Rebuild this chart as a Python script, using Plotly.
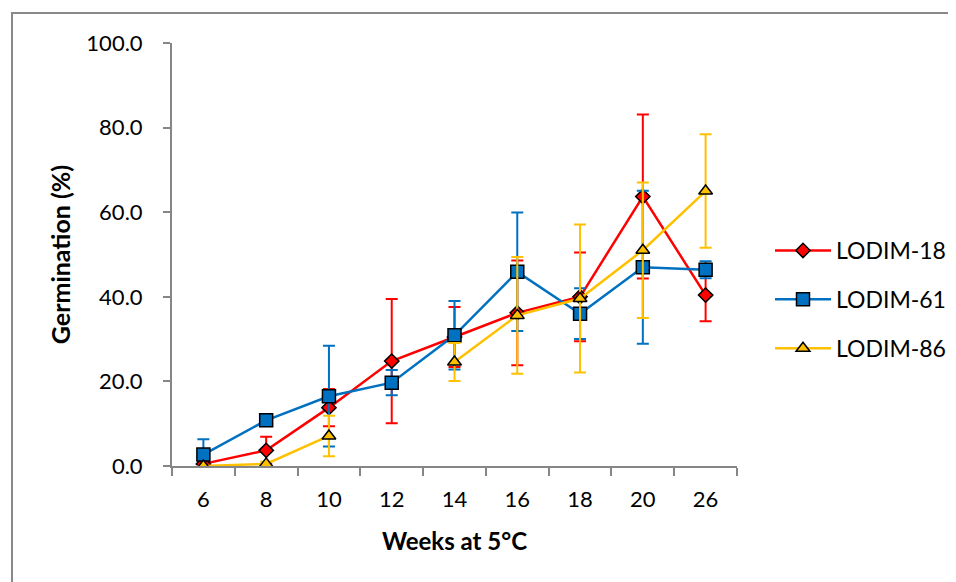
import plotly.graph_objects as go

weeks = ["6", "8", "10", "12", "14", "16", "18", "20", "26"]

lodim18 = [0.5, 3.7, 13.8, 24.8, 30.5, 36.2, 40.0, 63.7, 40.4]
lodim18_err = [0.5, 3.2, 4.4, 14.7, 7.1, 12.4, 10.5, 19.4, 6.2]

lodim61 = [2.7, 10.8, 16.5, 19.7, 30.9, 45.9, 36.0, 47.0, 46.4]
lodim61_err = [3.6, 0.8, 11.9, 3.0, 8.1, 14.0, 6.0, 18.1, 2.0]

lodim86 = [0.0, 0.5, 7.1, None, 24.6, 35.6, 39.6, 51.0, 65.0]
lodim86_err = [0.0, 0.5, 4.8, None, 4.5, 13.8, 17.5, 16.0, 13.4]

y_ticks = [0, 20, 40, 60, 80, 100]

# page offset of the plot div (default body margin)
OFF = 8
W, H = 956 - OFF, 582 - OFF
PX0, PX1 = 172, 737      # plot area in page pixels
PY0, PY1 = 43, 466
ML, MT = PX0 - OFF, PY0 - OFF
pw, ph = PX1 - PX0, PY1 - PY0
MR, MB = W - ML - pw, H - MT - ph
FONT = "Lato, Arial, sans-serif"
AXIS_GREY = "#868686"

series = [
    ("LODIM-18", lodim18, lodim18_err, "#FF0000", "diamond", 11),
    ("LODIM-61", lodim61, lodim61_err, "#0070C0", "square", 13),
    ("LODIM-86", lodim86, lodim86_err, "#FFC000", "triangle-up", 12),
]

fig = go.Figure()
for i, (name, vals, errs, color, sym, size) in enumerate(series):
    fig.add_trace(go.Scatter(
        x=weeks, y=vals, name=name, mode="lines+markers",
        legendgroup=f"g{i}",
        connectgaps=False,
        line=dict(color=color, width=2.5),
        marker=dict(symbol=sym, size=size, color=color,
                    line=dict(color="black", width=1.5)),
        error_y=dict(type="data", array=errs, visible=True,
                     color=color, thickness=2, width=6),
    ))

fig.add_shape(type="rect", xref="paper", yref="paper",
              x0=(12 - PX0) / pw, x1=(980 - PX0) / pw,
              y0=(PY1 - 620) / ph, y1=(PY1 - 13) / ph,
              line=dict(color="#898989", width=2), layer="below")

fig.update_layout(
    width=W, height=H,
    margin=dict(l=ML, r=MR, t=MT, b=MB, autoexpand=False),
    paper_bgcolor="white", plot_bgcolor="white",
    font=dict(family=FONT, size=22, color="black"),
    showlegend=True,
    legend=dict(x=1 + 33 / pw, xanchor="left", xref="paper",
                y=(PY1 - 229) / ph, yanchor="top",
                font=dict(family=FONT, size=23, color="black"),
                tracegroupgap=16, itemwidth=56,
                bgcolor="rgba(0,0,0,0)"),
    xaxis=dict(
        type="category", range=[-0.5, len(weeks) - 0.5],
        showgrid=False, zeroline=False,
        showline=True, linecolor=AXIS_GREY, linewidth=2,
        ticks="outside", ticklen=8, tickwidth=2, tickcolor=AXIS_GREY,
        tickson="boundaries", ticklabelstandoff=13,
        tickfont=dict(family=FONT, size=22),
        title=dict(text="<b>Weeks at 5°C</b>", standoff=22,
                   font=dict(family=FONT, size=24)),
    ),
    yaxis=dict(
        range=[0, 100], tickvals=y_ticks, tickformat=".1f",
        showgrid=False, zeroline=False,
        showline=True, linecolor=AXIS_GREY, linewidth=2,
        ticks="outside", ticklen=7, tickwidth=2, tickcolor=AXIS_GREY,
        ticklabelstandoff=16,
        tickfont=dict(family=FONT, size=22),
        title=dict(text="<b>Germination (%)</b>", standoff=9,
                   font=dict(family=FONT, size=25)),
    ),
)

fig.write_html("out.html")
